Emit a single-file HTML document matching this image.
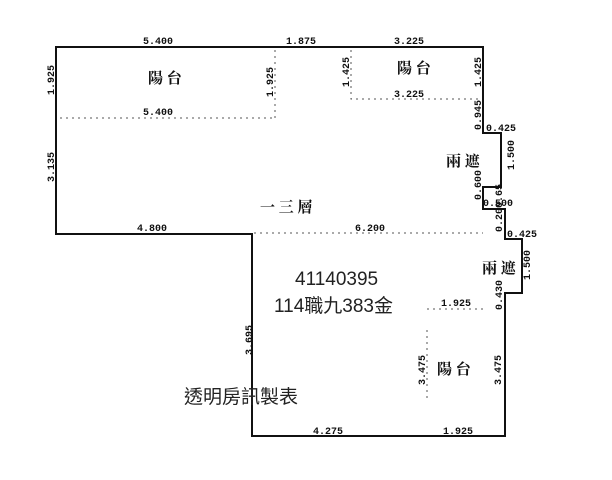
<!DOCTYPE html>
<html><head><meta charset="utf-8"><style>
html,body{margin:0;padding:0;background:#fff;width:612px;height:480px;overflow:hidden}
svg{display:block}
.d{font-family:"Liberation Mono",monospace;font-size:10px;fill:#111;font-weight:bold}
.c{font-family:"Liberation Serif","Noto Serif CJK SC",serif;font-size:15px;fill:#111;font-weight:bold}
.s{font-family:"Liberation Sans","Noto Sans CJK TC",sans-serif;fill:#222}
</style></head><body>
<svg width="612" height="480" viewBox="0 0 612 480">
<g stroke="#555" stroke-width="1" stroke-dasharray="2,4" fill="none">
<path d="M60 118H276M275 50V118"/>
<path d="M351 50V99H483"/>
<path d="M254 233H483"/>
<path d="M427 309H485M427 330V400"/>
</g>
<path d="M56 47H483V133H501V187H483V209H505V239H522V293H505V436H252V234H56Z" fill="none" stroke="#111" stroke-width="2"/>
<g class="d">
<text x="143" y="44">5.400</text>
<text x="286" y="44">1.875</text>
<text x="394" y="44">3.225</text>
<text x="143" y="115">5.400</text>
<text x="394" y="97">3.225</text>
<text x="137" y="231">4.800</text>
<text x="355" y="231">6.200</text>
<text x="486" y="131">0.425</text>
<text x="483" y="206">0.500</text>
<text x="507" y="237">0.425</text>
<text x="441" y="306">1.925</text>
<text x="313" y="434">4.275</text>
<text x="443" y="434">1.925</text>
<g transform="rotate(-90)">
<text x="-95" y="54">1.925</text>
<text x="-182" y="54">3.135</text>
<text x="-97" y="273">1.925</text>
<text x="-87" y="349">1.425</text>
<text x="-87" y="481">1.425</text>
<text x="-130" y="481">0.945</text>
<text x="-170" y="514">1.500</text>
<text x="-200" y="481">0.600</text>
<text x="-232" y="502">0.200.65</text>
<text x="-280" y="530">1.500</text>
<text x="-310" y="502">0.430</text>
<text x="-355" y="252">3.695</text>
<text x="-385" y="425">3.475</text>
<text x="-385" y="501">3.475</text>
</g>
</g>
<g class="c">
<text x="148" y="83">陽 台</text>
<text x="397" y="73">陽 台</text>
<text x="446" y="166">兩 遮</text>
<text x="482" y="273">兩 遮</text>
<text x="260" y="212">一 三 層</text>
<text x="437" y="374">陽 台</text>
</g>
<text class="s" x="295" y="285" font-size="19">41140395</text>
<text class="s" x="274" y="312" font-size="19">114職九383金</text>
<text class="s" x="184" y="403" font-size="19">透明房訊製表</text>
</svg>
</body></html>
